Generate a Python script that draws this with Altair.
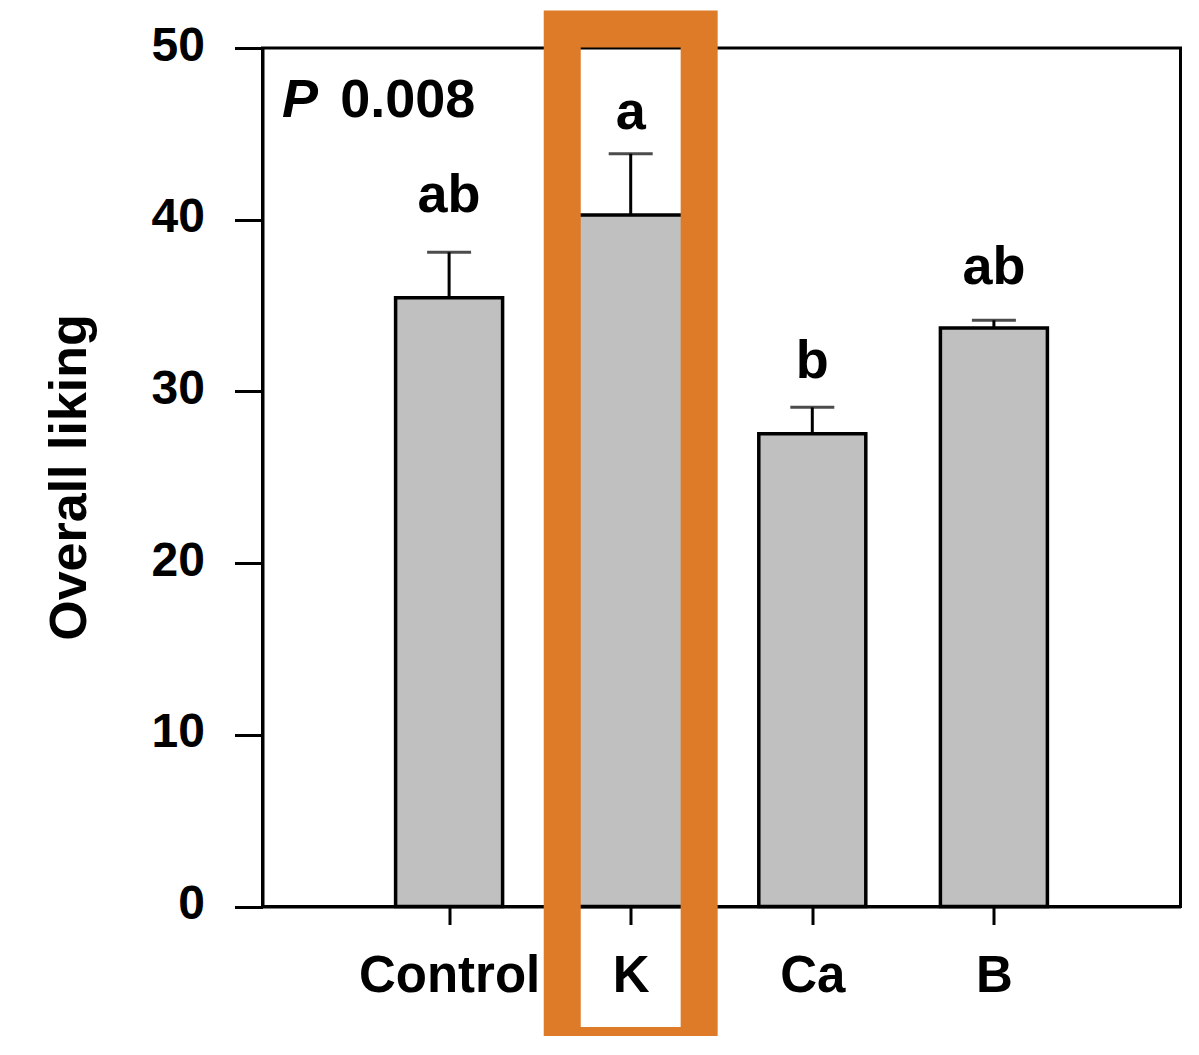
import altair as alt
import pandas as pd

# ---- data ----
categories = ["Control", "K", "Ca", "B"]
positions = [1, 2, 3, 4]
means = [35.46, 40.27, 27.54, 33.69]
upper = [38.10, 43.84, 29.07, 34.14]
letters = ["ab", "a", "b", "ab"]
letter_y = [40.45, 45.28, 30.78, 36.24]
y_ticks = [0, 10, 20, 30, 40, 50]

p_parts = ["P", "0.008"]
p_x = [0.08, 0.40]
p_y = [45.98, 45.98]

highlight = "K"
highlight_half = 0.377
highlight_y = [-8.1, 51.1]

FONT = "Liberation Sans, Arial, Helvetica, sans-serif"

df = pd.DataFrame({
    "cat": categories,
    "pos": positions,
    "mean": means,
    "upper": upper,
    "letter": letters,
    "ly": letter_y,
})

hpos = positions[categories.index(highlight)]
hl = pd.DataFrame({
    "x0": [hpos - highlight_half],
    "x1": [hpos + highlight_half],
    "y0": [highlight_y[0]],
    "y1": [highlight_y[1]],
})

p_italic = pd.DataFrame({"t": [p_parts[0]], "x": [p_x[0]], "y": [p_y[0]]})
p_plain = pd.DataFrame({"t": [p_parts[1]], "x": [p_x[1]], "y": [p_y[1]]})

label_expr = "{" + ",".join(f"'{p}':'{c}'" for p, c in zip(positions, categories)) + "}[datum.value]"

x_scale = alt.Scale(domain=[0, 5], nice=False, zero=False)
y_scale = alt.Scale(domain=[0, 50], nice=False)

x_axis = alt.Axis(values=positions, labelExpr=label_expr, title=None, grid=False,
                  tickSize=18, tickWidth=3, tickColor="black", domainWidth=3,
                  domainColor="black", labelFont=FONT, labelFontSize=51,
                  labelFontWeight="bold", labelColor="black", labelLimit=0,
                  labelOverlap=False,
                  labelBaseline="alphabetic", labelPadding=67)

y_axis = alt.Axis(values=y_ticks, title="Overall liking", grid=False,
                  tickSize=28, tickWidth=3, tickColor="black", domainWidth=3,
                  domainColor="black", labelFont=FONT, labelFontSize=48,
                  labelFontWeight="bold", labelColor="black", labelLimit=0,
                  labelBaseline="alphabetic", labelOffset=12, labelPadding=30,
                  titleFont=FONT, titleFontSize=52, titleFontWeight="bold",
                  titleColor="black", titleX=-177, titleY=429,
                  titleBaseline="alphabetic", titleAlign="center", titleAngle=-90)

base = alt.Chart(df)

bars = base.mark_bar(size=107, fill="#c0c0c0", stroke="black", strokeWidth=3.5).encode(
    x=alt.X("pos:Q", scale=x_scale, axis=x_axis),
    y=alt.Y("mean:Q", scale=y_scale, axis=y_axis),
)

err = base.mark_rule(color="black", strokeWidth=3).encode(
    x="pos:Q", y="mean:Q", y2="upper:Q"
)

caps = base.mark_tick(orient="horizontal", size=44, thickness=3, color="black").encode(
    x="pos:Q", y="upper:Q"
)

lett = base.mark_text(font=FONT, fontSize=54, fontWeight="bold", color="black",
                      baseline="alphabetic", align="center").encode(
    x="pos:Q", y="ly:Q", text="letter:N"
)

ptext_i = alt.Chart(p_italic).mark_text(font=FONT, fontSize=54, fontWeight="bold",
                                       fontStyle="italic", color="black",
                                       baseline="alphabetic", align="left").encode(
    x="x:Q", y="y:Q", text="t:N"
)
ptext_n = alt.Chart(p_plain).mark_text(font=FONT, fontSize=54, fontWeight="bold",
                                      color="black", baseline="alphabetic",
                                      align="left").encode(
    x="x:Q", y="y:Q", text="t:N"
)

box = alt.Chart(hl).mark_rect(filled=False, stroke="#de7b29", strokeWidth=37,
                              clip=False).encode(
    x="x0:Q", x2="x1:Q", y="y0:Q", y2="y1:Q"
)

chart = alt.layer(bars, err, caps, lett, ptext_i, ptext_n, box).properties(
    width=918, height=858.5,
    autosize=alt.AutoSizeParams(type="none"),
    padding={"left": 254.5, "top": 40, "right": 8, "bottom": 129},
    background="white",
).configure_view(stroke="black", strokeWidth=3)

chart.save("out.html", embed_options={"renderer": "svg", "actions": False})
